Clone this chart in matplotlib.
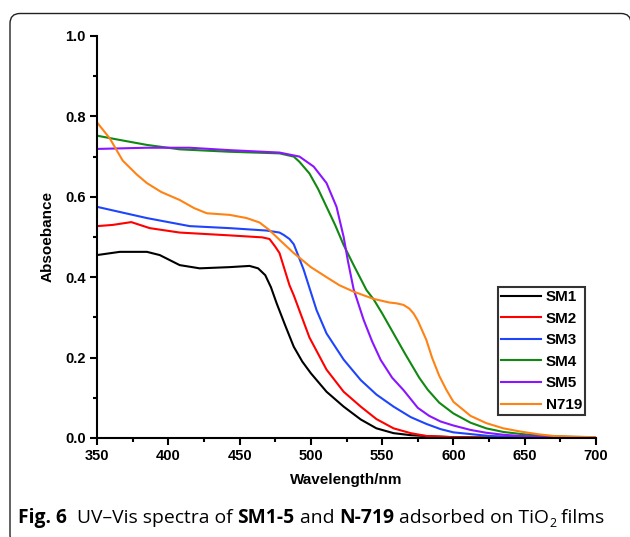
import matplotlib
matplotlib.use('Agg')
import matplotlib.pyplot as plt
from matplotlib.patches import FancyBboxPatch
from matplotlib.transforms import IdentityTransform
from matplotlib.ticker import MultipleLocator

# data (wavelength in nm, absorbance)
wl_sm1 = [350, 366, 385, 394, 408, 422, 443, 457, 463, 468, 472, 476, 482, 488, 494,
          500, 511, 523, 535, 546, 558, 570, 585, 600, 625, 650, 700]
sm1 = [0.455, 0.463, 0.463, 0.455, 0.430, 0.422, 0.425, 0.428, 0.422, 0.405, 0.375,
       0.335, 0.28, 0.227, 0.19, 0.161, 0.115, 0.078, 0.046, 0.024, 0.012, 0.007,
       0.004, 0.002, 0.001, 0.0, 0.0]

wl_sm2 = [350, 361, 374, 387, 408, 443, 466, 471, 475, 478, 485, 488, 499, 511,
          523, 535, 546, 558, 570, 581, 600, 625, 650, 700]
sm2 = [0.527, 0.530, 0.537, 0.522, 0.511, 0.504, 0.499, 0.495, 0.476, 0.46, 0.38,
       0.355, 0.25, 0.17, 0.115, 0.078, 0.047, 0.024, 0.012, 0.005, 0.002, 0.001,
       0.0, 0.0]

wl_sm3 = [350, 365, 385, 400, 415, 443, 469, 478, 481, 485, 488, 491, 495, 504,
          511, 523, 535, 546, 558, 570, 581, 591, 600, 625, 650, 700]
sm3 = [0.575, 0.563, 0.547, 0.537, 0.527, 0.522, 0.516, 0.511, 0.505, 0.495, 0.482,
       0.455, 0.418, 0.318, 0.26, 0.195, 0.144, 0.108, 0.078, 0.052, 0.035, 0.022,
       0.014, 0.005, 0.002, 0.0]

wl_sm4 = [350, 365, 385, 408, 443, 478, 488, 492, 499, 505, 511, 517, 523, 530,
          539, 544, 550, 558, 566, 576, 582, 590, 600, 612, 623, 635, 647, 660, 680,
          700]
sm4 = [0.752, 0.742, 0.729, 0.718, 0.712, 0.708, 0.700, 0.687, 0.658, 0.62, 0.575,
       0.53, 0.48, 0.43, 0.368, 0.345, 0.31, 0.26, 0.21, 0.15, 0.12, 0.088, 0.061,
       0.038, 0.024, 0.015, 0.01, 0.006, 0.003, 0.002]

wl_sm5 = [350, 385, 415, 443, 478, 492, 502, 511, 518, 523, 526, 530, 537, 543,
          549, 557, 565, 575, 583, 591, 600, 612, 623, 635, 647, 665, 700]
sm5 = [0.719, 0.722, 0.722, 0.716, 0.710, 0.700, 0.675, 0.634, 0.575, 0.50, 0.44,
       0.37, 0.294, 0.24, 0.194, 0.15, 0.119, 0.075, 0.055, 0.041, 0.031, 0.02,
       0.013, 0.008, 0.005, 0.003, 0.002]

wl_n719 = [350, 359, 368, 378, 385, 395, 408, 418, 427, 443, 455, 464, 471, 478,
           488, 500, 511, 520, 530, 544, 555, 560, 565, 569, 572, 575, 578, 581, 585,
           590, 595, 600, 612, 623, 635, 647, 660, 670, 685, 700]
n719 = [0.785, 0.745, 0.69, 0.655, 0.634, 0.612, 0.592, 0.572, 0.559, 0.555, 0.547,
        0.536, 0.517, 0.493, 0.46, 0.425, 0.40, 0.38, 0.364, 0.346, 0.337, 0.335,
        0.331, 0.322, 0.31, 0.292, 0.268, 0.244, 0.2, 0.155, 0.12, 0.09, 0.055,
        0.037, 0.024, 0.016, 0.009, 0.005, 0.003, 0.002]

labels = ['SM1', 'SM2', 'SM3', 'SM4', 'SM5', 'N719']
colors = ['#000000', '#ff0000', '#1f45fc', '#118811', '#8a16ff', '#ff8214']

series = [(wl_sm1, sm1), (wl_sm2, sm2), (wl_sm3, sm3),
          (wl_sm4, sm4), (wl_sm5, sm5), (wl_n719, n719)]

font = 'Liberation Sans'

fig = plt.figure(figsize=(6.3, 5.37), dpi=100)
ax = fig.add_axes([0.154, 0.1844, 0.792, 0.7486])

for (x, y), lab, c in zip(series, labels, colors):
    ax.plot(x, y, color=c, lw=1.5, label=lab)

ax.set_xlim(350, 700)
ax.set_ylim(0, 1.0)
ax.xaxis.set_major_locator(MultipleLocator(50))
ax.xaxis.set_minor_locator(MultipleLocator(25))
ax.yaxis.set_major_locator(MultipleLocator(0.2))
ax.yaxis.set_minor_locator(MultipleLocator(0.1))

for s in ['top', 'right']:
    ax.spines[s].set_visible(False)
for s in ['left', 'bottom']:
    ax.spines[s].set_linewidth(1.5)

ax.tick_params(which='major', direction='out', length=5, width=1.5, pad=3)
ax.tick_params(which='minor', direction='out', length=3, width=1.5)
for t in ax.get_xticklabels() + ax.get_yticklabels():
    t.set_fontfamily(font)
    t.set_fontweight('bold')
    t.set_fontsize(10.5)

ax.set_xlabel('Wavelength/nm', fontfamily=font, fontweight='bold', fontsize=11, labelpad=7)
ax.set_ylabel('Absoebance', fontfamily=font, fontweight='bold', fontsize=11, labelpad=8)

leg = ax.legend(loc='upper left', bbox_to_anchor=(0.804, 0.376), borderaxespad=0,
                frameon=True, fancybox=False, handlelength=2.6, handletextpad=0.3,
                labelspacing=0.5, borderpad=0.2,
                prop={'family': font, 'weight': 'bold', 'size': 11})
leg.get_frame().set_edgecolor('black')
leg.get_frame().set_linewidth(1.5)

# rounded border around the figure panel (pixel coordinates)
box = FancyBboxPatch((10, -8), 621, 531.5, boxstyle='round,pad=0,rounding_size=10',
                     transform=IdentityTransform(), facecolor='none',
                     edgecolor='#222222', lw=1.0)
fig.patches.append(box)

# caption, written piece by piece so parts can be bold
cap_font = 'Open Sans'
pieces = [('Fig. 6', 'bold'), ('  UV\u2013Vis spectra of ', 'normal'), ('SM1-5', 'bold'),
          (' and ', 'normal'), ('N-719', 'bold'), (' adsorbed on TiO', 'normal'),
          ('2', 'sub'), (' films', 'normal')]
fig.canvas.draw()
r = fig.canvas.get_renderer()
x = 18
y = 537 - 523
for txt, w in pieces:
    if w == 'sub':
        t = fig.text(x, y - 4, txt, fontsize=9, fontfamily=cap_font,
                     transform=IdentityTransform(), va='baseline', ha='left')
    else:
        t = fig.text(x, y, txt, fontsize=13.9, fontfamily=cap_font, fontweight=w,
                     transform=IdentityTransform(), va='baseline', ha='left')
    x = t.get_window_extent(renderer=r).x1

fig.savefig('out.png', dpi=100)
